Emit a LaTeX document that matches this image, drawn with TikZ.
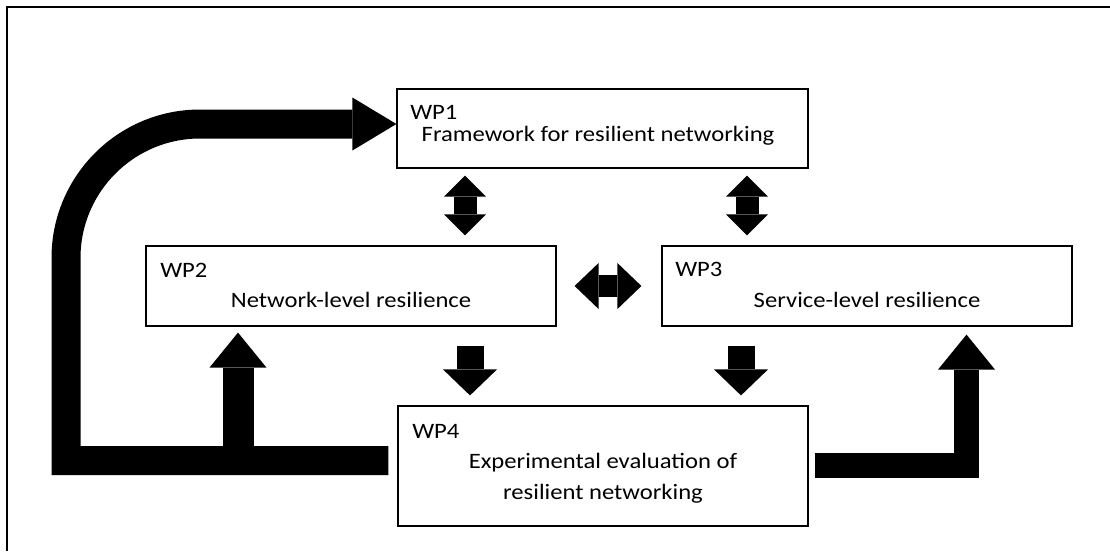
\documentclass[tikz,border=0pt]{standalone}
\usepackage{fontspec}
\setmainfont{Carlito}[FakeStretch=1.12]
\usetikzlibrary{arrows.meta}

\tikzset{
  wpbox/.style={draw, rectangle, line width=0.9pt, inner sep=0pt},
  tag/.style={anchor=base west, inner sep=0pt, font=\fontsize{16.5pt}{20pt}\selectfont},
  body/.style={anchor=base, inner sep=0pt, align=center, font=\fontsize{16.5pt}{23.25pt}\selectfont},
  fat/.style={line width=#1, line join=miter},
}

\begin{document}
\begin{tikzpicture}[x=0.75pt, y=-0.75pt]
\useasboundingbox (0,0) rectangle (1110,551);
\draw[line width=1.1pt] (7,551) -- (7,7) -- (1110,7);

% work packages
\node[wpbox, minimum width=308.25pt, minimum height=59.25pt] (wp1) at (602.5,128.5) {};
\node[wpbox, minimum width=307.5pt, minimum height=60pt] (wp2) at (351,286) {};
\node[wpbox, minimum width=307.5pt, minimum height=60pt] (wp3) at (867,286) {};
\node[wpbox, minimum width=307.5pt, minimum height=90pt] (wp4) at (603,466) {};

\node[tag] (wp1tag) at (410,119) {WP1};
\node[tag] (wp2tag) at (160,277) {WP2};
\node[tag] (wp3tag) at (675,276) {WP3};
\node[tag] (wp4tag) at (412,438) {WP4};

\node[body] (wp1txt) at (598,141) {Framework for resilient networking};
\node[body] (wp2txt) at (351,307) {Network-level resilience};
\node[body] (wp3txt) at (867,307) {Service-level resilience};
\node[body] (wp4txt) at (603,499) {Experimental evaluation of\\resilient networking};

% two-way links
\draw[fat=17.25pt, {Triangle[width=31.5pt,length=15.75pt,line width=0pt]}-{Triangle[width=31.5pt,length=15.75pt,line width=0pt]}, shorten <=5.25pt, shorten >=7.5pt] (wp1.south -| 465,0) -- (wp2.north -| 465,0);
\draw[fat=17.25pt, {Triangle[width=31.5pt,length=15.75pt,line width=0pt]}-{Triangle[width=31.5pt,length=15.75pt,line width=0pt]}, shorten <=5.25pt, shorten >=7.5pt] (wp1.south -| 747,0) -- (wp3.north -| 747,0);
\draw[fat=16.5pt, {Triangle[width=34.5pt,length=18pt,line width=0pt]}-{Triangle[width=34.5pt,length=18pt,line width=0pt]}, shorten <=13.5pt, shorten >=15pt] (wp2.east) -- (wp3.west);

% into WP4
\draw[fat=20.25pt, -{Triangle[width=40.5pt,length=19.5pt,line width=0pt]}, shorten <=14.25pt, shorten >=7.5pt] (wp2.south -| 470,0) -- (wp4.north -| 470,0);
\draw[fat=20.25pt, -{Triangle[width=40.5pt,length=19.5pt,line width=0pt]}, shorten <=14.25pt, shorten >=7.5pt] (wp3.south -| 741,0) -- (wp4.north -| 741,0);

% feedback from WP4
\coordinate (fbbend) at (66,460.5);
\coordinate (fbtee) at (238,460.5);
\coordinate (l3bend) at (966.5,465.5);
\draw[fat=21.75pt, -{Triangle[width=39.75pt,length=33pt,line width=0pt]}] ([shift={(-9,-5.5)}]wp4.west) -- (fbbend) -- (66,300) [rounded corners=100.5pt] -- (66,124) -- ([shift={(0,-4.5)}]wp1.west);
\draw[fat=23.25pt, -{Triangle[width=42.75pt,length=26.25pt,line width=0pt]}, shorten >=4.5pt] (fbtee) -- (fbtee |- wp2.south);
\draw[fat=18.75pt, -{Triangle[width=42.75pt,length=26.25pt,line width=0pt]}, shorten >=6pt] ([shift={(6,-0.5)}]wp4.east) -- (l3bend) -- (l3bend |- wp3.south);
\end{tikzpicture}
\end{document}
